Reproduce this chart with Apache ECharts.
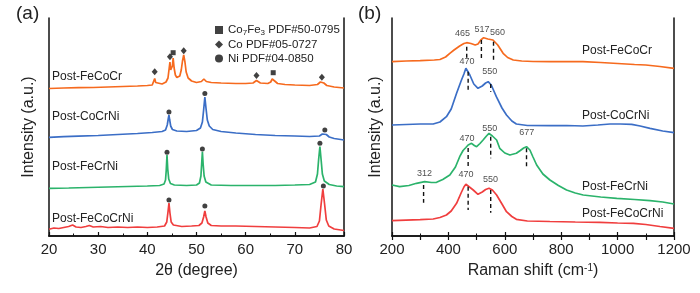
<!DOCTYPE html>
<html lang="en">
<head>
    <meta charset="UTF-8">
    <title>XRD and Raman of post-catalysis alloys</title>
    <script src="https://cdn.jsdelivr.net/npm/echarts@6.0.0/dist/echarts.min.js"></script>
    <style>
        html, body, #chart {
            width: 700px;
            height: 293px;
            padding: 0;
            margin: 0;
            background: #fff;
        }
    </style>
</head>
<body>
<div id="chart"></div>
<script>
    // intensities are in arbitrary units (offset stack)
    var xrdFeCoCr = [[20,147.5],[23,148],[26,148.3],[29,148.5],[32,149],[35,149.5],[38,150],[40,150.5],[41,151],[41.3,153],[41.5,157.5],[41.7,153.5],[42,151.5],[43,152],[43.8,154],[44.2,158],[44.45,168],[44.6,174],[44.75,166],[44.95,164],[45.1,170],[45.25,178],[45.45,168],[45.7,161],[46,158.5],[46.3,158],[46.6,160],[46.9,166],[47.15,175],[47.4,181],[47.65,174],[47.9,164],[48.3,158],[49,155],[50,153.5],[51,154.5],[51.5,157],[52,154.5],[53,153.5],[55,153],[58,152.5],[60,152.5],[61.5,153],[62.2,155.5],[63,153],[64.5,152.5],[65.1,154],[65.4,157],[65.6,159],[65.9,155],[66.5,152.5],[68,151.5],[70,151],[73,150.5],[74.6,151.5],[75.2,154],[75.5,155],[75.9,153],[76.5,150.5],[78,149],[80,148]];
    var xrdCoCrNi = [[20,98.7],[23,99.3],[26,99.8],[30,100.5],[34,101.5],[38,102.5],[41,103.5],[43,104.5],[43.7,106],[44.05,111],[44.25,117],[44.4,121],[44.55,116],[44.75,110],[45.1,106.5],[46,105],[48,104.5],[50,105.5],[50.8,108],[51.2,114],[51.45,126],[51.7,139],[51.95,127],[52.2,116],[52.6,110],[53.3,106.5],[55,104.5],[58,103],[62,101.5],[66,100.5],[70,100],[73,99.5],[75,100],[75.6,102],[76,103.3],[76.4,101.5],[77,99],[78,97.5],[80,96]];
    var xrdFeCrNi = [[20,47.7],[24,48],[28,48.5],[32,49],[36,49.5],[40,50],[42.5,50.5],[43.4,52],[43.7,56],[43.85,66],[44.0,81],[44.15,67],[44.35,57],[44.7,52.5],[45.5,51],[48,50.5],[50,51],[50.6,53],[50.9,60],[51.05,72],[51.2,84.3],[51.35,72],[51.55,60],[51.9,54],[53,51],[57,50.5],[62,50.5],[66,50.5],[70,51],[73,51.5],[74.2,54],[74.6,62],[74.85,77],[75.1,89.3],[75.35,76],[75.6,62],[76,55],[77,51.5],[78.5,50],[80,49.3]];
    var xrdFeCoCrNi = [[20,6.7],[21,8],[22,7.5],[23,8.5],[24,9.5],[24.8,11],[25.5,9],[26.5,8.5],[27.5,9.5],[28.2,10.5],[29,9],[30.5,9.5],[32,8.5],[34,9],[36,8.5],[38,9],[40,8.5],[42,9],[43.5,10],[43.95,14],[44.2,24],[44.4,33],[44.6,23],[44.85,14],[45.3,11],[47,9.5],[49,10],[50.5,10.5],[51.1,13],[51.45,19],[51.7,25],[51.95,19],[52.3,13],[53,10.5],[55,10],[58,10],[62,9.5],[66,9],[70,8.5],[73,8],[74.5,9.5],[75.0,15],[75.35,32],[75.7,47],[76.05,32],[76.4,16],[76.9,10],[78,7],[80,5.5]];

    // phase markers above the XRD peaks
    var co7fe3Marks = [[45.25,183.3],[65.6,163.3]];
    var coMarks = [[41.5,164.3],[44.6,179.3],[47.4,185.3],[62.2,160.5],[75.5,158.7]];
    var niMarks = [[44.4,124],[51.7,142.5],[76.1,106],[44.0,83.7],[51.2,87],[75.1,92.7],[44.4,36],[51.7,30],[75.8,50]];

    var ramanFeCoCr = [[200,174.3],[250,175],[300,175.3],[350,176],[370,176.5],[390,179],[405,182.7],[420,186],[440,190],[455,192.5],[465,193.3],[480,192.5],[495,191],[505,192],[515,196],[525,198.3],[540,197],[558,196],[575,191],[594,182.7],[610,178.5],[630,176],[660,175],[700,174.5],[760,174.3],[820,174.5],[877,174.3],[940,173.5],[1000,172.5],[1060,171.5],[1100,171],[1150,169.5],[1200,167.7]];
    var ramanCoCrNi = [[200,111],[250,111.5],[300,112],[346,112],[370,114],[393,119.3],[410,127],[429,142.7],[445,155],[455,162],[462,167.7],[470,164],[476,161],[490,152],[505,147.7],[520,150],[532,153],[541,154.3],[552,151],[570,139.3],[590,128],[606,121],[625,115],[641,112],[680,110.5],[760,110.3],[820,110.5],[877,110],[930,111],[973,112],[1010,112],[1050,111.7],[1080,110],[1115,107.7],[1160,105],[1200,103.3]];
    var ramanFeCrNi = [[200,51],[227,49.3],[260,50.5],[287,52.7],[316,54.3],[340,53.5],[358,53.7],[380,56.5],[405,61],[425,69],[440,79.3],[452,85.5],[462,88.5],[470,91],[482,92.7],[492,90.5],[500,89.3],[512,92.5],[523,96],[535,100],[544,102.7],[556,100],[571,96],[582,87.7],[600,83],[618,81],[641,82.7],[655,85.5],[667,88],[677,89.3],[689,86],[700,79],[713,71],[735,62],[760,56],[790,50.5],[819,46],[850,43],[878,41],[940,39],[997,37.7],[1060,36.5],[1115,35.3],[1160,34],[1200,32]];
    var ramanFeCoCrNi = [[200,15.3],[250,15.8],[300,16.3],[346,17],[370,18.5],[393,21],[410,25],[429,32.7],[445,43],[455,49],[462,51.7],[470,50],[488,46],[505,41.7],[520,44],[532,46.5],[544,47.7],[556,46],[571,41],[590,32],[606,24.3],[625,19.5],[641,16.7],[680,15],[760,14.5],[850,14],[937,13.7],[1000,13],[1056,12.7],[1100,11.5],[1150,9.5],[1200,7.7]];

    // [shift, dash top, dash bottom, label x, label height]
    var ramanPeaks = [
        [465,189.3,176,450,202.7],[517,196,176.7,519,206],[560,194.3,175,574,203.3],
        [470,164.3,144.3,466,174.3],[550,152,144.3,547,164.3],
        [312,51,33.3,315,62.7],[470,88,69.3,466,97.7],[550,99.3,77.7,547,107.7],[677,87.7,66.7,678,103],
        [470,49.3,26,462,61],[550,46,23.3,549,56]
    ];

    var sampleNames = ["Post-FeCoCr", "Post-CoCrNi", "Post-FeCrNi", "Post-FeCoCrNi"];
    var colors = ["#f66a1e", "#3b6ec6", "#2bb36b", "#f03e3e"];
    var phaseNames = ["Co7Fe3 PDF#50-0795", "Co PDF#05-0727", "Ni PDF#04-0850"];

    var myChart = echarts.init(document.getElementById("chart"), null, {renderer: "canvas"});

    var font = "Arial, 'Liberation Sans', sans-serif";
    var black = "#111";

    function curve(name, data, color, axis) {
        return {
            name: name,
            type: "line",
            xAxisIndex: axis,
            yAxisIndex: axis,
            data: data,
            showSymbol: false,
            silent: true,
            lineStyle: {color: color, width: 1.7},
            z: 2
        };
    }

    function marks(name, data, symbol, size) {
        return {
            name: name,
            type: "scatter",
            xAxisIndex: 0,
            yAxisIndex: 0,
            data: data,
            symbol: symbol,
            symbolSize: size,
            itemStyle: {color: black},
            z: 3
        };
    }

    var series = [
        curve(sampleNames[0], xrdFeCoCr, colors[0], 0),
        curve(sampleNames[1], xrdCoCrNi, colors[1], 0),
        curve(sampleNames[2], xrdFeCrNi, colors[2], 0),
        curve(sampleNames[3], xrdFeCoCrNi, colors[3], 0),
        marks(phaseNames[0], co7fe3Marks, "rect", 5),
        marks(phaseNames[1], coMarks, "diamond", [6, 7]),
        marks(phaseNames[2], niMarks, "circle", 5),
        curve(sampleNames[0] + " R", ramanFeCoCr, colors[0], 1),
        curve(sampleNames[1] + " R", ramanCoCrNi, colors[1], 1),
        curve(sampleNames[2] + " R", ramanFeCrNi, colors[2], 1),
        curve(sampleNames[3] + " R", ramanFeCoCrNi, colors[3], 1)
    ];

    ramanPeaks.forEach(function (p) {
        series.push({
            type: "line",
            xAxisIndex: 1,
            yAxisIndex: 1,
            data: [[p[0], p[1]], [p[0], p[2]]],
            showSymbol: false,
            silent: true,
            lineStyle: {color: black, width: 1.4, type: [4, 3]},
            z: 4
        });
    });
    series.push({
        type: "scatter",
        xAxisIndex: 1,
        yAxisIndex: 1,
        symbolSize: 0,
        silent: true,
        data: ramanPeaks.map(function (p) { return {value: [p[3], p[4]], text: String(p[0])}; }),
        label: {
            show: true,
            position: "inside",
            color: "#222",
            fontSize: 9,
            fontFamily: font,
            formatter: function (d) { return d.data.text; }
        },
        z: 5
    });

    function xAxis(grid, min, max, interval, name) {
        return {
            gridIndex: grid,
            type: "value",
            min: min,
            max: max,
            interval: interval,
            position: "bottom",
            name: name,
            nameLocation: "middle",
            nameGap: 27,
            nameTextStyle: {
                fontSize: 16, color: "#222", fontFamily: font,
                rich: {
                    t: {fontSize: 16, color: "#222", fontFamily: font},
                    s: {fontSize: 10, color: "#222", fontFamily: font, verticalAlign: "top", lineHeight: 10}
                }
            },
            axisLine: {lineStyle: {color: black, width: 1.5}},
            axisTick: {inside: true, length: 4, lineStyle: {color: black, width: 1.2}},
            minorTick: {show: true, splitNumber: 2, length: 2.5, lineStyle: {color: black, width: 1}},
            axisLabel: {
                fontSize: 15, color: "#222", fontFamily: font, margin: 6,
                formatter: function (v) { return String(v); }
            },
            splitLine: {show: false}
        };
    }

    function topAxis(grid, min, max, interval, ticks) {
        return {
            gridIndex: grid,
            type: "value",
            min: min,
            max: max,
            interval: interval,
            position: "top",
            axisLine: {lineStyle: {color: black, width: 1.5}},
            axisTick: {show: ticks, inside: true, length: 4, lineStyle: {color: black, width: 1.2}},
            axisLabel: {show: false},
            splitLine: {show: false}
        };
    }

    function yAxis(grid, gap) {
        return {
            gridIndex: grid,
            type: "value",
            min: 0,
            max: 218,
            name: "Intensity (a.u.)",
            nameLocation: "middle",
            nameGap: gap,
            nameTextStyle: {fontSize: 16, color: "#222", fontFamily: font},
            axisLine: {show: true, lineStyle: {color: black, width: 1.5}},
            axisTick: {show: false},
            axisLabel: {show: false},
            splitLine: {show: false}
        };
    }

    function rightAxis(grid) {
        return {
            gridIndex: grid,
            type: "value",
            min: 0,
            max: 218,
            position: "right",
            axisLine: {show: true, lineStyle: {color: black, width: 1.5}},
            axisTick: {show: false},
            axisLabel: {show: false},
            splitLine: {show: false}
        };
    }

    function label(text, x, y, size) {
        return {
            type: "text",
            left: x,
            top: y,
            style: {text: text, fill: "#222", font: size + "px " + font}
        };
    }

    var xAxes = [
        xAxis(0, 20, 80, 10, "{t|2θ (degree)}"),
        xAxis(1, 200, 1200, 200, "{t|Raman shift (cm}{s|-1}{t|)}"),
        topAxis(0, 20, 80, 10, false),
        topAxis(1, 200, 1200, 100, true)
    ];
    var yAxes = [yAxis(0, 12), yAxis(1, 8), rightAxis(0), rightAxis(1)];
    // pair the extra axes with their grids
    series.push({type: "line", xAxisIndex: 2, yAxisIndex: 2, data: [], silent: true});
    series.push({type: "line", xAxisIndex: 3, yAxisIndex: 3, data: [], silent: true});

    myChart.setOption({
        animation: false,
        backgroundColor: "#fff",
        grid: [
            {left: 49, right: 356, top: 18, bottom: 57},
            {left: 392, right: 26, top: 18, bottom: 57}
        ],
        legend: {
            data: [
                {name: phaseNames[0], icon: "rect"},
                {name: phaseNames[1], icon: "diamond"},
                {name: phaseNames[2], icon: "circle"}
            ],
            orient: "vertical",
            left: 210,
            top: 19,
            itemWidth: 8,
            itemHeight: 8,
            itemGap: 2,
            selectedMode: false,
            textStyle: {
                fontSize: 11.5, color: "#222", fontFamily: font,
                rich: {
                    t: {fontSize: 11.5, color: "#222", fontFamily: font, lineHeight: 13},
                    s: {fontSize: 8, color: "#222", fontFamily: font, verticalAlign: "bottom", lineHeight: 8}
                }
            },
            formatter: function (n) {
                if (n === phaseNames[0]) {
                    return "{t|Co}{s|7}{t|Fe}{s|3}{t| PDF#50-0795}";
                }
                return "{t|" + n + "}";
            }
        },
        xAxis: xAxes,
        yAxis: yAxes,
        graphic: [
            label("(a)", 16, 4, 19),
            label("(b)", 358, 4, 19),
            label(sampleNames[0], 52, 71, 12),
            label(sampleNames[1], 52, 111, 12),
            label(sampleNames[2], 52, 161, 12),
            label(sampleNames[3], 52, 213, 12),
            label(sampleNames[0], 582, 45, 12),
            label(sampleNames[1], 582, 110, 12),
            label(sampleNames[2], 582, 181, 12),
            label(sampleNames[3], 582, 208, 12)
        ],
        series: series
    });
</script>
</body>
</html>
